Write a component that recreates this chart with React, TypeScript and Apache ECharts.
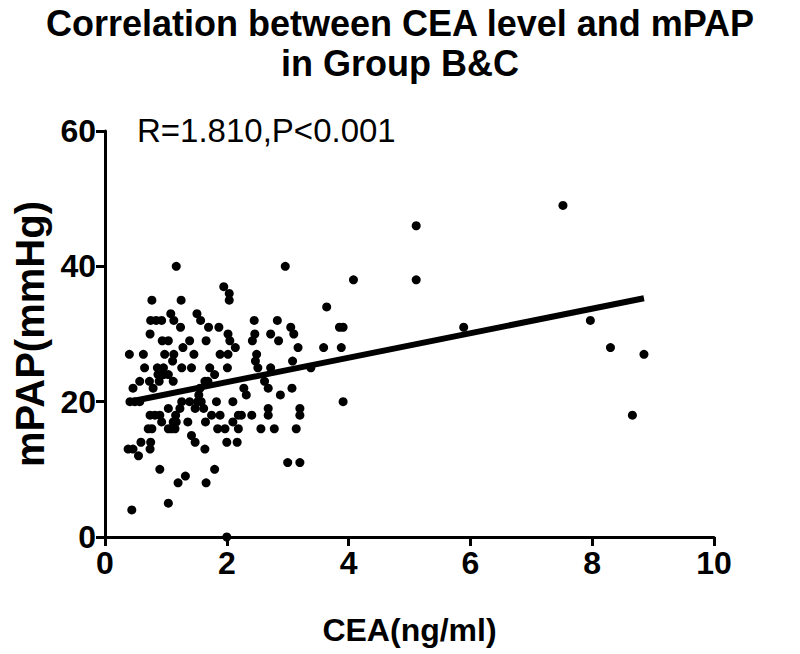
import React, { useEffect, useRef } from "react";
import * as echarts from "echarts";

const titleText = "Correlation between CEA level and mPAP\nin Group B&C";
const statText = "R=1.810,P<0.001";
const xAxisName = "CEA(ng/ml)";
const yAxisName = "mPAP(mmHg)";
const xRange = [0, 10];
const xStep = 2;
const yRange = [0, 60];
const yStep = 20;
const fitSlope = 1.81;
const fitIntercept = 19.26;

// [CEA, mPAP]
const points: [number, number][] = [
  [7.52, 49], [5.11, 46],
  [1.17, 40], [2.96, 40],
  [4.08, 38], [5.11, 38],
  [1.95, 37], [2.04, 36],
  [0.77, 35], [1.25, 35], [2.04, 35],
  [3.64, 34],
  [1.08, 33], [1.51, 33],
  [0.75, 32], [0.84, 32], [0.93, 32], [1.13, 32], [1.57, 32], [2.45, 32], [2.83, 32], [7.97, 32],
  [1.24, 31], [1.7, 31], [1.87, 31], [3.05, 31], [3.85, 31], [3.91, 31], [5.89, 31],
  [0.74, 30], [2.02, 30], [2.46, 30], [2.72, 30], [3.1, 30],
  [0.94, 29], [1.04, 29], [1.39, 29], [1.66, 29], [2.05, 29], [2.42, 29], [2.85, 29],
  [1.28, 28], [2.14, 28], [3.17, 28], [3.59, 28], [3.88, 28], [8.3, 28],
  [0.4, 27], [0.63, 27], [0.98, 27], [1.13, 27], [1.46, 27], [1.89, 27], [2.02, 27], [2.49, 27], [8.85, 27],
  [1.11, 26], [2.47, 26], [3.08, 26],
  [0.65, 25], [0.86, 25], [0.96, 25], [1.26, 25], [1.42, 25], [1.72, 25], [2.01, 25], [2.51, 25], [2.72, 25], [3.38, 25],
  [0.87, 24], [0.96, 24], [1.04, 24], [1.8, 24],
  [0.57, 23], [0.73, 23], [0.89, 23], [1.12, 23], [1.64, 23], [1.69, 23], [2.62, 23],
  [0.46, 22], [0.79, 22], [1.56, 22], [2.28, 22], [2.68, 22], [3.07, 22],
  [1.54, 21], [2.32, 21], [2.88, 21],
  [0.41, 20], [0.49, 20], [0.57, 20], [1.26, 20], [1.39, 20], [1.52, 20], [1.58, 20], [1.83, 20], [2.1, 20], [3.91, 20],
  [1.04, 19], [1.23, 19], [1.48, 19], [1.62, 19], [2.68, 19], [3.2, 19],
  [0.74, 18], [0.82, 18], [0.9, 18], [1.16, 18], [1.75, 18], [1.89, 18], [2.19, 18], [2.24, 18], [2.41, 18], [2.68, 18], [3.2, 18], [8.66, 18],
  [0.93, 17], [1.12, 17], [1.17, 17], [1.36, 17], [1.65, 17], [2.1, 17],
  [0.71, 16], [0.77, 16], [1.04, 16], [1.09, 16], [1.15, 16], [1.85, 16], [1.97, 16], [2.19, 16], [2.56, 16], [2.78, 16], [3.14, 16],
  [1.42, 15],
  [0.59, 14], [0.75, 14], [1.48, 14], [2.0, 14], [2.17, 14],
  [0.38, 13], [0.46, 13], [0.74, 13], [1.64, 13],
  [0.55, 12],
  [3.0, 11], [3.2, 11],
  [0.9, 10], [1.8, 10],
  [1.32, 9],
  [1.2, 8], [1.66, 8],
  [1.04, 5],
  [0.44, 4],
  [2.0, 0],
];

const FONT = "'Liberation Sans', Arial, Helvetica, sans-serif";

export default function App() {
  const ref = useRef<HTMLDivElement>(null);
  useEffect(() => {
    const chart = echarts.init(ref.current!, null, { renderer: "svg" });
    const xs = points.map((p) => p[0]);
    const minX = Math.min(...xs);
    const maxX = Math.max(...xs);
    const fitLine = [
      [minX, fitIntercept + fitSlope * minX],
      [maxX, fitIntercept + fitSlope * maxX],
    ];
    chart.setOption({
      animation: false,
      backgroundColor: "#fff",
      title: {
        text: titleText,
        left: "center",
        top: 3,
        padding: 0,
        textStyle: {
          fontFamily: FONT,
          fontSize: 36,
          fontWeight: "bold",
          color: "#000",
          lineHeight: 40,
        },
      },
      grid: { left: 105, right: 86, top: 131, bottom: 117 },
      xAxis: {
        type: "value",
        min: xRange[0],
        max: xRange[1],
        interval: xStep,
        name: xAxisName,
        nameLocation: "middle",
        nameGap: 77,
        nameTextStyle: { fontFamily: FONT, fontSize: 32, fontWeight: "bold", color: "#000" },
        axisLine: { onZero: false, lineStyle: { color: "#000", width: 3 } },
        axisTick: { length: 9, lineStyle: { color: "#000", width: 3 } },
        axisLabel: { fontFamily: FONT, fontSize: 32, fontWeight: "bold", color: "#000", margin: 10 },
        splitLine: { show: false },
      },
      yAxis: {
        type: "value",
        min: yRange[0],
        max: yRange[1],
        interval: yStep,
        name: yAxisName,
        nameLocation: "middle",
        nameGap: 41,
        nameTextStyle: { fontFamily: FONT, fontSize: 40, fontWeight: "bold", color: "#000" },
        axisLine: { show: true, onZero: false, lineStyle: { color: "#000", width: 3 } },
        axisTick: { show: true, length: 9, lineStyle: { color: "#000", width: 3 } },
        axisLabel: { fontFamily: FONT, fontSize: 32, fontWeight: "bold", color: "#000", margin: 9 },
        splitLine: { show: false },
      },
      graphic: [
        {
          type: "text",
          left: 137,
          top: 114,
          style: {
            text: statText,
            fill: "#000",
            font: `33px ${FONT}`,
          },
        },
      ],
      series: [
        {
          type: "scatter",
          data: points,
          symbolSize: 9,
          itemStyle: { color: "#000", opacity: 1 },
          z: 2,
        },
        {
          type: "line",
          data: fitLine,
          symbol: "none",
          lineStyle: { color: "#000", width: 6 },
          z: 3,
        },
      ],
    });
    return () => chart.dispose();
  }, []);
  return <div ref={ref} style={{ position: "fixed", left: 0, top: 0, width: 800, height: 654 }} />;
}
